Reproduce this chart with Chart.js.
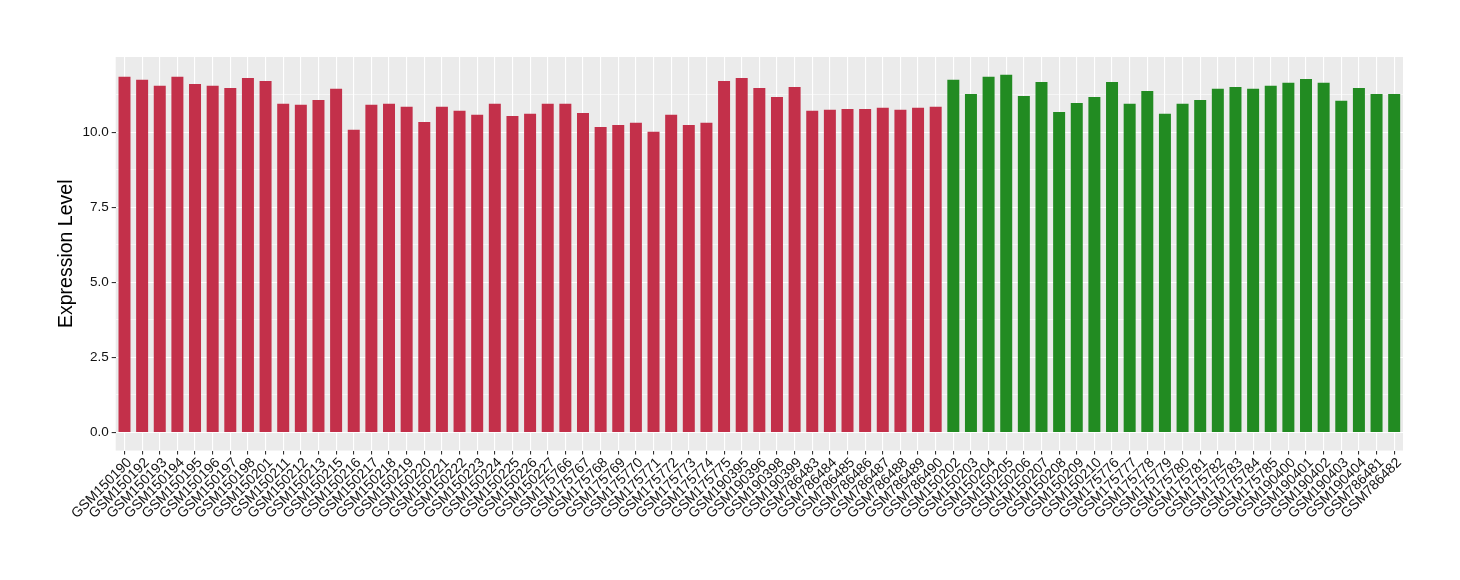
<!DOCTYPE html>
<html>
<head>
<meta charset="utf-8">
<script src="https://cdn.jsdelivr.net/npm/chart.js@4"></script>
<style>
  html, body { margin: 0; padding: 0; background: #ffffff; }
  #wrap { position: relative; width: 1460px; height: 580px; }
</style>
</head>
<body>
<div id="wrap"><canvas id="c" width="1460" height="580"></canvas></div>
<script>
// ---- data ----
const redSamples = ["GSM150190","GSM150192","GSM150193","GSM150194","GSM150195","GSM150196","GSM150197","GSM150198","GSM150201","GSM150211","GSM150212","GSM150213","GSM150215","GSM150216","GSM150217","GSM150218","GSM150219","GSM150220","GSM150221","GSM150222","GSM150223","GSM150224","GSM150225","GSM150226","GSM150227","GSM175766","GSM175767","GSM175768","GSM175769","GSM175770","GSM175771","GSM175772","GSM175773","GSM175774","GSM175775","GSM190395","GSM190396","GSM190398","GSM190399","GSM786483","GSM786484","GSM786485","GSM786486","GSM786487","GSM786488","GSM786489","GSM786490"];
const redValues = [11.84,11.74,11.54,11.84,11.60,11.54,11.47,11.80,11.70,10.94,10.91,11.07,11.44,10.08,10.91,10.94,10.84,10.34,10.84,10.71,10.58,10.94,10.54,10.61,10.94,10.94,10.64,10.17,10.24,10.31,10.01,10.58,10.24,10.31,11.70,11.80,11.47,11.17,11.50,10.71,10.74,10.77,10.77,10.81,10.74,10.81,10.84];
const greenSamples = ["GSM150202","GSM150203","GSM150204","GSM150205","GSM150206","GSM150207","GSM150208","GSM150209","GSM150210","GSM175776","GSM175777","GSM175778","GSM175779","GSM175780","GSM175781","GSM175782","GSM175783","GSM175784","GSM175785","GSM190400","GSM190401","GSM190402","GSM190403","GSM190404","GSM786481","GSM786482"];
const greenValues = [11.74,11.27,11.84,11.91,11.20,11.67,10.67,10.97,11.17,11.67,10.94,11.37,10.61,10.94,11.07,11.44,11.50,11.44,11.54,11.64,11.77,11.64,11.04,11.47,11.27,11.27];
const yMajorTicks = [0, 2.5, 5, 7.5, 10];
const yMinorTicks = [1.25, 3.75, 6.25, 8.75, 11.25];
const yTitle = "Expression Level";

// ---- build ----
const labels = redSamples.concat(greenSamples);
const values = redValues.concat(greenValues);
const RED = "#C3304A", GREEN = "#228B22";
const colors = redSamples.map(() => RED).concat(greenSamples.map(() => GREEN));

const panelBg = {
  id: 'panelBg',
  beforeDraw(chart) {
    const {ctx, chartArea: a} = chart;
    ctx.save();
    ctx.fillStyle = '#EBEBEB';
    ctx.fillRect(a.left, a.top, a.right - a.left, a.bottom - a.top);
    ctx.restore();
  }
};

const FONT = "'Liberation Sans', Arial, Helvetica, sans-serif";

new Chart(document.getElementById('c'), {
  type: 'bar',
  data: {
    labels: labels,
    datasets: [{
      data: values,
      backgroundColor: colors,
      borderWidth: 0,
      barPercentage: 0.68,
      categoryPercentage: 1.0
    }]
  },
  options: {
    responsive: false,
    animation: false,
    devicePixelRatio: 1,
    layout: { padding: { left: 55, right: 57, top: 57, bottom: 58 } },
    plugins: { legend: { display: false }, tooltip: { enabled: false } },
    scales: {
      x: {
        type: 'category',
        offset: true,
        grid: {
          offset: false,
          color: '#FFFFFF',
          lineWidth: 1.1,
          drawTicks: true,
          tickColor: '#333333',
          tickLength: 4,
          tickWidth: 1.1
        },
        border: { display: false },
        ticks: {
          color: '#111111',
          font: { family: FONT, size: 14 },
          minRotation: 45,
          maxRotation: 45,
          autoSkip: false,
          labelOffset: 5,
          padding: 0
        }
      },
      y: {
        type: 'linear',
        min: -0.6,
        max: 12.5,
        afterBuildTicks(scale) {
          const all = yMajorTicks.concat(yMinorTicks).sort((a, b) => a - b);
          scale.ticks = all.map(v => ({ value: v }));
        },
        grid: {
          color: '#FFFFFF',
          lineWidth: ctx => (yMajorTicks.includes(ctx.tick.value) ? 1.1 : 0.55),
          tickColor: ctx => (yMajorTicks.includes(ctx.tick.value) ? '#333333' : 'rgba(0,0,0,0)'),
          tickLength: 4,
          tickWidth: 1.1
        },
        border: { display: false },
        ticks: {
          color: '#111111',
          font: { family: FONT, size: 13.5 },
          padding: 3,
          callback: v => (yMajorTicks.includes(v) ? v.toFixed(1) : '')
        },
        title: {
          display: true,
          text: yTitle,
          color: '#000000',
          font: { family: FONT, size: 19.5 },
          padding: { top: 0, bottom: 1 }
        }
      }
    }
  },
  plugins: [panelBg]
});
</script>
</body>
</html>
